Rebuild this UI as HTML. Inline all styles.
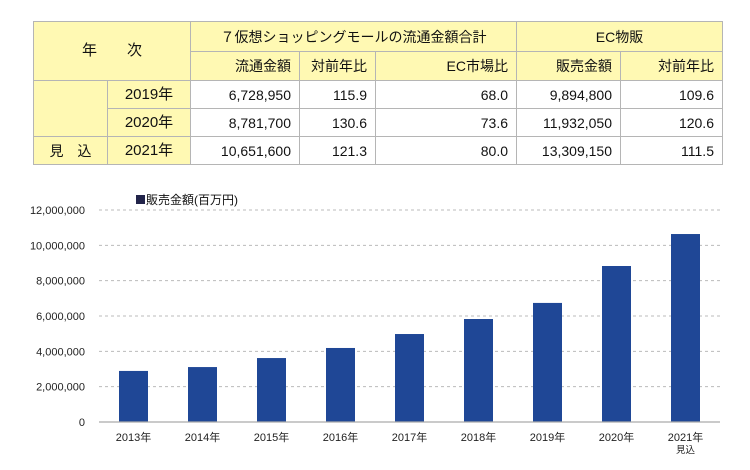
<!DOCTYPE html>
<html><head><meta charset="utf-8"><style>
body{margin:0;width:750px;height:470px;background:#fff;font-family:"Liberation Sans","Noto Sans CJK JP",sans-serif;position:relative;overflow:hidden}
table{position:absolute;left:33px;top:21px;border-collapse:collapse;font-size:14px;color:#111}
td{border:1px solid #b5b5b5;padding:0 8px;height:27px;line-height:16px}
.y{background:#fff9b3}
.r{text-align:right}.c{text-align:center}
</style></head><body>
<table>
<tr><td class="y c" colspan="2" rowspan="2" style="width:140px;font-size:15px">年　　次</td>
<td class="y c" colspan="3" style="height:29px">７仮想ショッピングモールの流通金額合計</td>
<td class="y c" colspan="2">EC物販</td></tr>
<tr><td class="y r" style="width:92px;height:28px">流通金額</td><td class="y r" style="width:59px">対前年比</td><td class="y r" style="width:124px">EC市場比</td><td class="y r" style="width:87px">販売金額</td><td class="y r" style="width:85px">対前年比</td></tr>
<tr><td class="y" rowspan="2" style="width:57px"></td><td class="y c" style="width:66px;font-size:15px">2019年</td><td class="r">6,728,950</td><td class="r">115.9</td><td class="r">68.0</td><td class="r">9,894,800</td><td class="r">109.6</td></tr>
<tr><td class="y c" style="font-size:15px">2020年</td><td class="r">8,781,700</td><td class="r">130.6</td><td class="r">73.6</td><td class="r">11,932,050</td><td class="r">120.6</td></tr>
<tr><td class="y c" style="height:25px">見　込</td><td class="y c" style="font-size:15px">2021年</td><td class="r">10,651,600</td><td class="r">121.3</td><td class="r">80.0</td><td class="r">13,309,150</td><td class="r">111.5</td></tr>
</table>
<svg id="chart" width="750" height="470" style="position:absolute;left:0;top:0"></svg>
<script>
const categories=["2013年","2014年","2015年","2016年","2017年","2018年","2019年","2020年","2021年"];
const salesValues=[2890000,3110000,3620000,4190000,4980000,5830000,6740000,8830000,10640000];
const tickValues=[0,2000000,4000000,6000000,8000000,10000000,12000000];
const NS="http://www.w3.org/2000/svg",svg=document.getElementById("chart");
const L=99,R=720,Y0=422,Y1=210,MAX=12000000;
const y=v=>Y0-(v/MAX)*(Y0-Y1);
const bw=(R-L)/categories.length;
const x=i=>L+bw*(i+0.5);
function mk(t,a,txt){const e=document.createElementNS(NS,t);for(const k in a)e.setAttribute(k,a[k]);if(txt!=null)e.textContent=txt;svg.appendChild(e);return e;}
tickValues.forEach(v=>{
 if(v>0){const g=mk("line",{x1:L,x2:R,y1:y(v),y2:y(v),stroke:"#bbb","stroke-dasharray":"3,3"});
 
 }
 const t=mk("text",{x:85,y:y(v)+4,"text-anchor":"end","font-size":"11",fill:"#222"},v.toLocaleString("en-US"));
 
 
});
salesValues.forEach((v,i)=>{
 const b=mk("rect",{x:x(i)-14.5,y:y(v),width:29,height:Y0-y(v),fill:"#1f4796"});
 
 
 const t=mk("text",{x:x(i),y:441,"text-anchor":"middle","font-size":"11",fill:"#222"},categories[i]);
 
 
});
const s=mk("text",{x:x(8),y:453,"text-anchor":"middle","font-size":"9.5",fill:"#222"},"見込");


const ax=mk("line",{x1:L,x2:R,y1:Y0,y2:Y0,stroke:"#aaa","stroke-width":1.2});


const lg=mk("rect",{x:136,y:195,width:9,height:9,fill:"#22244a"});


const lt=mk("text",{x:146,y:204,"font-size":"12",fill:"#111"},"販売金額(百万円)");


</script>
</body></html>
